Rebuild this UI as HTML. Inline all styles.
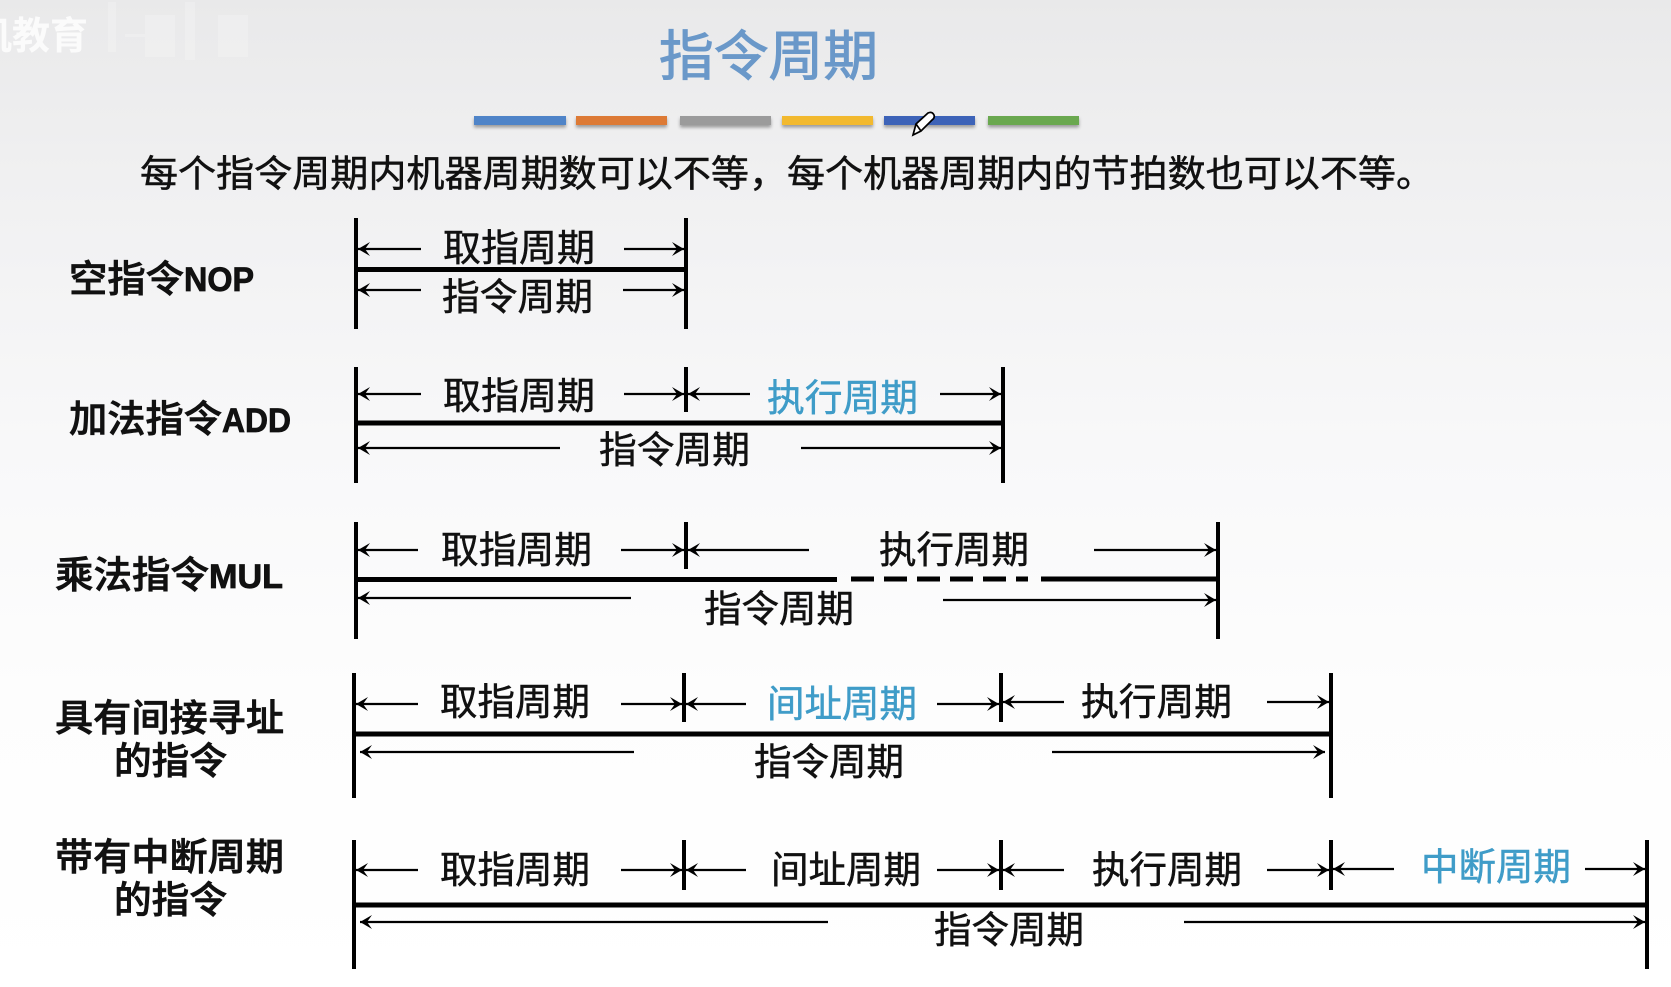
<!DOCTYPE html>
<html lang="zh"><head><meta charset="utf-8"><title>指令周期</title>
<style>
html,body{margin:0;padding:0;width:1671px;height:987px;overflow:hidden;background:#fff}
svg{display:block}
text{font-family:"Liberation Sans","Noto Sans CJK SC",sans-serif;dominant-baseline:central;fill:#111;transform:translate(0,1px)}
.t{font-size:37.5px;stroke:#111;stroke-width:.5px}
.b{fill:#3f9cc8;stroke:#3f9cc8}
.lab{font-size:37.5px;font-weight:500;stroke:#111;stroke-width:.7px}
.lat{font-size:34px;font-weight:700;font-family:"Liberation Sans",sans-serif;stroke:#111;stroke-width:.8px}
.v{stroke:#000;stroke-width:4;fill:none}
.h{stroke:#000;stroke-width:5;fill:none}
.r{stroke:#000;stroke-width:2.2;fill:none;marker-end:url(#m)}
</style></head><body>
<svg width="1671" height="987" viewBox="0 0 1671 987" xmlns="http://www.w3.org/2000/svg">
<defs>
<linearGradient id="bg" x1="0" y1="0" x2="0" y2="1">
<stop offset="0" stop-color="#e9e9ea"/><stop offset=".18" stop-color="#f0f0f1"/><stop offset=".45" stop-color="#f8f8f9"/><stop offset=".7" stop-color="#fdfdfd"/><stop offset="1" stop-color="#fff"/>
</linearGradient>
<filter id="s" x="-5%" y="-50%" width="110%" height="220%"><feDropShadow dx="0" dy="2.5" stdDeviation="1.5" flood-color="#000" flood-opacity=".35"/></filter>
<marker id="m" markerUnits="userSpaceOnUse" viewBox="-14 -8 16 16" refX="0" refY="0" markerWidth="16" markerHeight="16" orient="auto"><path d="M-12,-7 L0,0 L-12,7 L-7,0 Z" fill="#000"/></marker>
</defs>
<rect width="1671" height="987" fill="url(#bg)"/>

<!-- watermark -->
<text x="-26" y="36" font-size="38" style="fill:#fbfbfb;font-weight:700">机教育</text>
<g fill="#fff" opacity=".2"><rect x="108" y="2" width="8" height="50"/><rect x="125" y="34" width="30" height="3"/><rect x="145" y="15" width="30" height="42"/><rect x="185" y="2" width="10" height="58"/><rect x="218" y="15" width="30" height="42"/></g>

<text x="659" y="56" font-size="54" textLength="219" lengthAdjust="spacingAndGlyphs" style="fill:#6a98c9;stroke:#6a98c9;stroke-width:1.1px">指令周期</text>

<g filter="url(#s)">
<rect x="474" y="116" width="92" height="9" fill="#4f84c8"/>
<rect x="576" y="116" width="91" height="9" fill="#dd7a35"/>
<rect x="680" y="116" width="91" height="9" fill="#9b9b9b"/>
<rect x="782" y="116" width="91" height="9" fill="#f2b92e"/>
<rect x="884" y="116" width="91" height="9" fill="#3e63b8"/>
<rect x="988" y="116" width="91" height="9" fill="#6aa84f"/>
</g>
<path d="M913,135 L916,124 L928,113 Q932,111 934,115 Q935,118 932,120 L921,131 Z M916,124 L921,131" fill="#fff" stroke="#000" stroke-width="1.7"/>

<text class="t" x="140" y="173" textLength="1294" lengthAdjust="spacingAndGlyphs" style="font-size:37px">每个指令周期内机器周期数可以不等，每个机器周期内的节拍数也可以不等。</text>

<!-- Row 1 -->
<text class="lab" x="69" y="278" textLength="115" lengthAdjust="spacingAndGlyphs">空指令</text>
<text class="lat" x="184" y="279" textLength="70" lengthAdjust="spacingAndGlyphs">NOP</text>
<path class="v" d="M356,218V329M686,218V329"/>
<path class="h" d="M356,269.500H686"/>
<path class="r" d="M421,249H358"/><path class="r" d="M421,290H358"/>
<path class="r" d="M624,249H684"/><path class="r" d="M623,290H684"/>
<text class="t" x="443" y="247" textLength="152" lengthAdjust="spacingAndGlyphs">取指周期</text>
<text class="t" x="442" y="296" textLength="151" lengthAdjust="spacingAndGlyphs">指令周期</text>

<!-- Row 2 -->
<text class="lab" x="69" y="418" textLength="153" lengthAdjust="spacingAndGlyphs">加法指令</text>
<text class="lat" x="222" y="420" textLength="69" lengthAdjust="spacingAndGlyphs">ADD</text>
<path class="v" d="M356,367V483M686,367V412M1003,367V483"/>
<path class="h" d="M356,423H1003"/>
<path class="r" d="M421,394H358"/><path class="r" d="M750,394H688"/><path class="r" d="M560,448H358"/>
<path class="r" d="M624,394H684"/><path class="r" d="M940,394H1001"/><path class="r" d="M801,448H1001"/>
<text class="t" x="443" y="395" textLength="152" lengthAdjust="spacingAndGlyphs">取指周期</text>
<text class="t b" x="767" y="397" textLength="151" lengthAdjust="spacingAndGlyphs">执行周期</text>
<text class="t" x="599" y="449" textLength="151" lengthAdjust="spacingAndGlyphs">指令周期</text>

<!-- Row 3 -->
<text class="lab" x="55" y="574" textLength="154" lengthAdjust="spacingAndGlyphs">乘法指令</text>
<text class="lat" x="209" y="576" textLength="74" lengthAdjust="spacingAndGlyphs">MUL</text>
<path class="v" d="M356,522V639M686,522V569M1218,522V639"/>
<path class="h" d="M356,579.500H837M1041,579H1218"/>
<path d="M851,579H1028" stroke="#000" stroke-width="5" stroke-dasharray="23 10" fill="none"/>
<path class="r" d="M418,550H358"/><path class="r" d="M809,550H688"/><path class="r" d="M631,598H358"/>
<path class="r" d="M621,550H684"/><path class="r" d="M1094,550H1216"/><path class="r" d="M943,600H1216"/>
<text class="t" x="441" y="549" textLength="151" lengthAdjust="spacingAndGlyphs">取指周期</text>
<text class="t" x="879" y="549" textLength="150" lengthAdjust="spacingAndGlyphs">执行周期</text>
<text class="t" x="704" y="608" textLength="150" lengthAdjust="spacingAndGlyphs">指令周期</text>

<!-- Row 4 -->
<text class="lab" x="55" y="717" textLength="229" lengthAdjust="spacingAndGlyphs">具有间接寻址</text>
<text class="lab" x="114" y="760" textLength="113" lengthAdjust="spacingAndGlyphs">的指令</text>
<path class="v" d="M354,673V798M684,673V722M1001,673V722M1331,673V798"/>
<path class="h" d="M354,734H1331"/>
<path class="r" d="M418,704H356"/><path class="r" d="M746,704H686"/><path class="r" d="M1064,702H1003"/><path class="r" d="M634,752H360"/>
<path class="r" d="M621,704H682"/><path class="r" d="M937,704H999"/><path class="r" d="M1267,702H1329"/><path class="r" d="M1052,752H1325"/>
<text class="t" x="440" y="701" textLength="150" lengthAdjust="spacingAndGlyphs">取指周期</text>
<text class="t b" x="767" y="703" textLength="150" lengthAdjust="spacingAndGlyphs">间址周期</text>
<text class="t" x="1081" y="701" textLength="151" lengthAdjust="spacingAndGlyphs">执行周期</text>
<text class="t" x="754" y="761" textLength="150" lengthAdjust="spacingAndGlyphs">指令周期</text>

<!-- Row 5 -->
<text class="lab" x="55" y="856" textLength="229" lengthAdjust="spacingAndGlyphs">带有中断周期</text>
<text class="lab" x="114" y="899" textLength="113" lengthAdjust="spacingAndGlyphs">的指令</text>
<path class="v" d="M354,840V969M684,840V890M1001,840V890M1331,840V890M1647,840V969"/>
<path class="h" d="M354,905H1647"/>
<path class="r" d="M418,870H356"/><path class="r" d="M746,870H686"/><path class="r" d="M1064,870H1003"/><path class="r" d="M1394,869H1333"/><path class="r" d="M828,922H360"/>
<path class="r" d="M621,870H682"/><path class="r" d="M937,870H999"/><path class="r" d="M1267,870H1329"/><path class="r" d="M1585,869H1645"/><path class="r" d="M1184,922H1645"/>
<text class="t" x="440" y="869" textLength="150" lengthAdjust="spacingAndGlyphs">取指周期</text>
<text class="t" x="771" y="869" textLength="150" lengthAdjust="spacingAndGlyphs">间址周期</text>
<text class="t" x="1092" y="869" textLength="150" lengthAdjust="spacingAndGlyphs">执行周期</text>
<text class="t b" x="1421" y="866" textLength="150" lengthAdjust="spacingAndGlyphs">中断周期</text>
<text class="t" x="934" y="929" textLength="150" lengthAdjust="spacingAndGlyphs">指令周期</text>
</svg>
</body></html>
